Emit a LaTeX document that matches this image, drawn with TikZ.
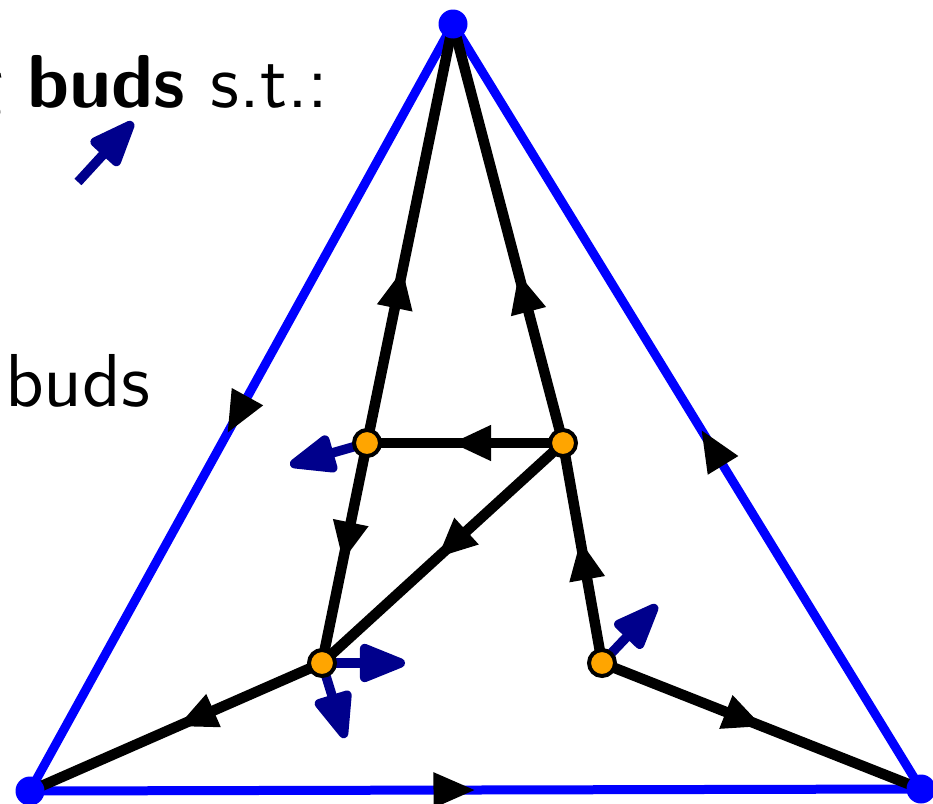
\documentclass[tikz,border=0pt]{standalone}
\usepackage{fontspec}
\setsansfont{lmsans10-regular.otf}[BoldFont=lmsans10-bold.otf]
\usetikzlibrary{arrows.meta,decorations.markings}
\definecolor{budblue}{RGB}{0,0,140}
\definecolor{vorange}{RGB}{255,165,0}
\begin{document}
\begin{tikzpicture}[x=1pt,y=-1pt,
  blueedge/.style={draw=blue,line width=9pt},
  blackedge/.style={draw=black,line width=10.5pt},
  mid/.style={postaction=decorate,decoration={markings,mark=at position #1 with {\arrow[black]{Triangle[length=40pt,width=33pt]}}}},
  bmid/.style={postaction=decorate,decoration={markings,mark=at position #1 with {\arrow[black]{Triangle[length=42pt,width=33pt]}}}},
  bud/.style={draw=budblue,line width=9.5pt,-{Triangle[length=54pt,width=40pt,round]}},
  vtx/.style={circle,fill=vorange,draw=black,line width=4pt,minimum size=26pt,inner sep=0pt},
  corner/.style={circle,fill=blue,minimum size=29pt,inner sep=0pt},
  txt/.style={inner sep=0pt,font=\sffamily\fontsize{75}{80}\selectfont}]
\useasboundingbox (0,0) rectangle (933,803);
\clip (0,0) rectangle (933,803);
% positions
\coordinate (T) at (453,24);
\coordinate (BL) at (30,791);
\coordinate (BR) at (921,789);
\coordinate (A) at (367,443);
\coordinate (B) at (563,443);
\coordinate (C) at (322,663);
\coordinate (D) at (602,663);
% bud tips
\coordinate (ta) at (290,465);
\coordinate (tc1) at (405,663);
\coordinate (tc2) at (345,738);
\coordinate (td) at (657,605);
\coordinate (l0) at (78,182);
\coordinate (l1) at (133,122);
% texts
\node[txt,anchor=base east] (t1) at (329,107) {g \textbf{buds} s.t.:};
\node[txt,anchor=base west] (t2) at (5,406) {buds};
% outer triangle
\draw[blueedge,bmid=0.534] (T) -- (BL);
\draw[blueedge,bmid=0.47] (BR) -- (T);
\draw[blueedge,bmid=0.5] (BL) -- (BR);
% inner edges
\draw[blackedge,mid=0.416] (A) -- (T);
\draw[blackedge,mid=0.406] (B) -- (T);
\draw[blackedge,mid=0.571] (B) -- (A);
\draw[blackedge,mid=0.54] (A) -- (C);
\draw[blackedge,mid=0.523] (B) -- (C);
\draw[blackedge,mid=0.56] (D) -- (B);
\draw[blackedge,mid=0.497] (C) -- (BL);
\draw[blackedge,mid=0.505] (D) -- (BR);
% buds
\draw[bud] (A) -- (ta);
\draw[bud] (C) -- (tc1);
\draw[bud] (C) -- (tc2);
\draw[bud] (D) -- (td);
\draw[bud] (l0) -- (l1);
% vertices
\node[corner] (nT) at (T) {};
\node[corner] (nBL) at (BL) {};
\node[corner] (nBR) at (BR) {};
\node[vtx] (nA) at (A) {};
\node[vtx] (nB) at (B) {};
\node[vtx] (nC) at (C) {};
\node[vtx] (nD) at (D) {};
\end{tikzpicture}
\end{document}
